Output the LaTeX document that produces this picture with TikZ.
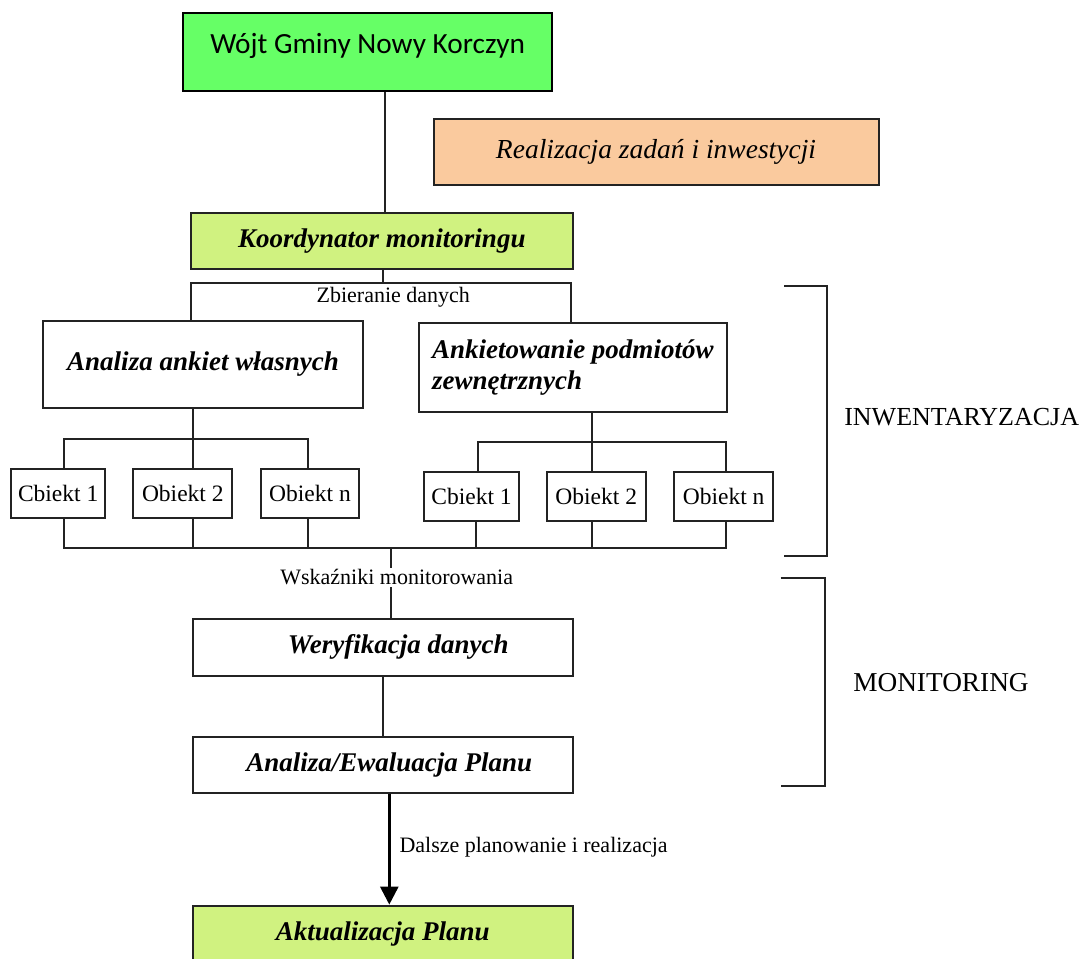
\documentclass[tikz,border=0pt]{standalone}
\usepackage{fontspec}
\setmainfont{Liberation Serif}
\newfontfamily\wojtfont{Carlito}
\usetikzlibrary{arrows.meta}
\definecolor{wgreen}{RGB}{102,255,102}
\definecolor{limefill}{RGB}{208,242,128}
\definecolor{peachfill}{RGB}{250,202,158}
\definecolor{edge}{RGB}{35,35,35}
\tikzset{
  box/.style={draw=edge, line width=2pt, inner sep=0pt, anchor=center, align=center},
  bigtxt/.style={font=\fontsize{27pt}{31.7pt}\selectfont\bfseries\itshape},
  objtxt/.style={font=\fontsize{23.5pt}{27pt}\selectfont},
  lbltxt/.style={font=\fontsize{22pt}{26pt}\selectfont},
  sidetxt/.style={font=\fontsize{26pt}{30pt}\selectfont},
  conn/.style={draw=edge, line width=2pt},
  objbox/.style={box, objtxt, minimum height=49pt},
}
\begin{document}
\begin{tikzpicture}[x=1pt,y=-1pt]
\useasboundingbox (0,0) rectangle (1085,959);

% boxes
\node[box, draw=black, line width=2.3pt, fill=wgreen, minimum width=368.7pt, minimum height=77.4pt,
      font=\fontsize{29.3pt}{34pt}\selectfont\wojtfont, text height=20pt, text depth=18pt]
      (wojt) at (367.65,52) {Wójt Gminy Nowy Korczyn};
\node[box, fill=peachfill, minimum width=445pt, minimum height=65.5pt,
      font=\fontsize{27.5pt}{32pt}\selectfont\itshape] (real) at (656,151.75) {Realizacja zadań i inwestycji};
\node[box, bigtxt, fill=limefill, minimum width=381.3pt, minimum height=56pt] (koord) at (381.85,241) {Koordynator monitoringu};
\node[box, bigtxt, minimum width=320pt, minimum height=87.3pt] (ana) at (203,364.35) {Analiza ankiet własnych};
\node[box, bigtxt, align=left, minimum width=307.7pt, minimum height=88.3pt] (ank) at (572.85,367.5) {Ankietowanie podmiotów\\zewnętrznych};

\node[objbox, minimum width=94.3pt] (lc1) at (58.15,493) {Cbiekt 1};
\node[objbox, minimum width=99pt] (lo2) at (182.8,493) {Obiekt 2};
\node[objbox, minimum width=98.6pt] (lon) at (310,493) {Obiekt n};
\node[objbox, minimum width=95pt] (rc1) at (471.5,496.2) {Cbiekt 1};
\node[objbox, minimum width=99pt] (ro2) at (596.2,496.2) {Obiekt 2};
\node[objbox, minimum width=99.3pt] (ron) at (723.65,496.2) {Obiekt n};

\node[box, bigtxt, minimum width=380pt, minimum height=56.7pt] (wer) at (382.7,647.35) {\hspace*{31pt}Weryfikacja danych};
\node[box, bigtxt, minimum width=380pt, minimum height=55.7pt] (ewa) at (382.7,764.85) {\hspace*{13pt}Analiza/Ewaluacja Planu};
\node[box, bigtxt, fill=limefill, minimum width=380pt, minimum height=56.3pt] (akt) at (382.7,933.85) {Aktualizacja Planu};

% connector junctions
\coordinate (wj) at (385,0);
\coordinate (kj) at (383.3,282.7);
\coordinate (zl) at (191,282.7);
\coordinate (zr) at (570.5,282.7);
\coordinate (lt) at (192.7,439.3);
\coordinate (lt1) at (64.3,439.3);
\coordinate (lt3) at (308.3,439.3);
\coordinate (rt) at (592.3,441.7);
\coordinate (rt1) at (477.7,441.7);
\coordinate (rt3) at (726,441.7);
\coordinate (b1) at (64.3,547.7);
\coordinate (b2) at (192.7,547.7);
\coordinate (b3) at (308.3,547.7);
\coordinate (b4) at (476,547.7);
\coordinate (b5) at (592.3,547.7);
\coordinate (b6) at (726,547.7);
\coordinate (bc) at (390.7,547.7);
\coordinate (ax) at (389.3,0);

% connectors
\draw[conn] (wj |- wojt.south) -- (wj |- koord.north);
\draw[conn] (kj |- koord.south) -- (kj);
\draw[conn] (zl |- ana.north) -- (zl) -- (zr) -- (zr |- ank.north);

\draw[conn] (lt |- ana.south) -- (lt) -- (lt |- lo2.north);
\draw[conn] (lt1 |- lc1.north) -- (lt1) -- (lt3) -- (lt3 |- lon.north);
\draw[conn] (rt |- ank.south) -- (rt) -- (rt |- ro2.north);
\draw[conn] (rt1 |- rc1.north) -- (rt1) -- (rt3) -- (rt3 |- ron.north);

\draw[conn] (b1 |- lc1.south) -- (b1) -- (b6) -- (b6 |- ron.south);
\draw[conn] (b2 |- lo2.south) -- (b2);
\draw[conn] (b3 |- lon.south) -- (b3);
\draw[conn] (b4 |- rc1.south) -- (b4);
\draw[conn] (b5 |- ro2.south) -- (b5);
\draw[conn] (bc) -- (bc |- wer.north);
\draw[conn] (wer.south) -- (ewa.north);
\draw[draw=black, line width=3.5pt, -{Triangle[width=17.6pt,length=18pt]}] (ax |- ewa.south) -- (ax |- akt.north);

% labels
\node[lbltxt, inner sep=0pt] (zbi) at (393.3,297.3) {Zbieranie danych};
\node[lbltxt, fill=white, inner xsep=0pt, inner ysep=2pt] (wsk) at (396.7,577.5) {Wskaźniki monitorowania};
\node[lbltxt, anchor=west, inner sep=0pt] (dal) at (399.3,846.7) {Dalsze planowanie i realizacja};

% side brackets
\draw[conn] (784,286) -- (826.7,286) -- (826.7,556) -- (784,556);
\draw[conn] (780.7,578) -- (825,578) -- (825,786) -- (780.7,786);
\node[sidetxt, inner sep=0pt] (inw) at (961.7,416.7) {INWENTARYZACJA};
\node[sidetxt, font=\fontsize{27.3pt}{31pt}\selectfont, inner sep=0pt] (mon) at (941,683) {MONITORING};
\end{tikzpicture}
\end{document}
